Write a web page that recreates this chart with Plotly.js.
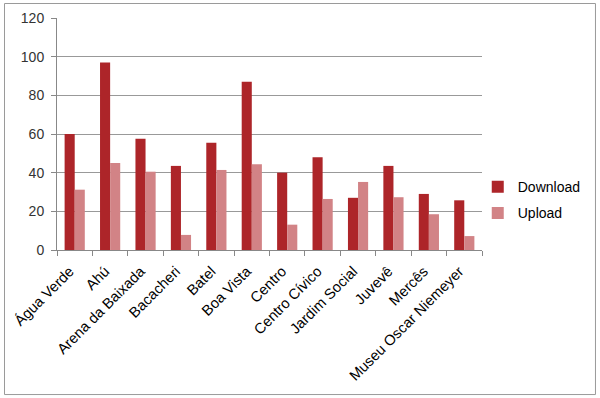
<!DOCTYPE html>
<html>
<head>
<meta charset="utf-8">
<script src="https://cdn.plot.ly/plotly-3.0.1.min.js"></script>
<style>
html,body{margin:0;padding:0;background:#fff;}
#chart{width:600px;height:398px;}
</style>
</head>
<body>
<div id="chart"></div>
<script>
const categories = ["Água Verde","Ahú","Arena da Baixada","Bacacheri","Batel","Boa Vista","Centro","Centro Cívico","Jardim Social","Juvevê","Mercês","Museu Oscar Niemeyer"];
const download = [60, 97, 57.5, 43.5, 55.5, 87, 40, 48, 27, 43.5, 29, 25.7];
const upload = [31.2, 45, 40.5, 7.8, 41.4, 44.3, 13.1, 26.4, 35.2, 27.3, 18.5, 7.2];
const yTicks = [0, 20, 40, 60, 80, 100, 120];

const traces = [
  {type:"bar", name:"Download", x:categories, y:download, legendgroup:"d",
   marker:{color:"#ad2529", line:{width:0}}},
  {type:"bar", name:"Upload", x:categories, y:upload, legendgroup:"u",
   marker:{color:"#d28386", line:{width:0}}}
];

const layout = {
  width:600, height:398,
  margin:{l:57, r:118, t:18, b:148, pad:0, autoexpand:false},
  paper_bgcolor:"#fff", plot_bgcolor:"#fff",
  font:{family:"Liberation Sans, Arial, sans-serif", size:14, color:"#222"},
  barmode:"group", bargap:0.43, bargroupgap:0,
  showlegend:true,
  legend:{x:0.99, xanchor:"left", y:0.34, yanchor:"top", font:{size:14, color:"#000"}, bgcolor:"rgba(0,0,0,0)",
          itemwidth:30, traceorder:"grouped", tracegroupgap:5},
  xaxis:{type:"category", tickangle:-45, ticks:"outside", ticklen:5, tickcolor:"#888",
         tickson:"boundaries", showline:true, linecolor:"#888", linewidth:1, showgrid:false,
         ticklabelshift:-5, ticklabelstandoff:6,
         tickfont:{size:14.7, color:"#000"}, automargin:false, fixedrange:true},
  yaxis:{range:[0,120], tickvals:yTicks, ticks:"outside", ticklen:5, tickcolor:"#888",
         showline:true, linecolor:"#888", linewidth:1, showgrid:true, gridcolor:"#999", gridwidth:1,
         ticklabelstandoff:4,
         zeroline:false, tickfont:{size:14, color:"#333"}, automargin:false, fixedrange:true},
  shapes:[{type:"rect", xref:"paper", yref:"paper", x0:-0.1235, x1:1.267, y0:-0.623, y1:1.0625,
           line:{color:"#9a9a9a", width:1}, fillcolor:"rgba(0,0,0,0)", layer:"below"}]
};

Plotly.newPlot("chart", traces, layout, {displayModeBar:false, staticPlot:true});
</script>
</body>
</html>
